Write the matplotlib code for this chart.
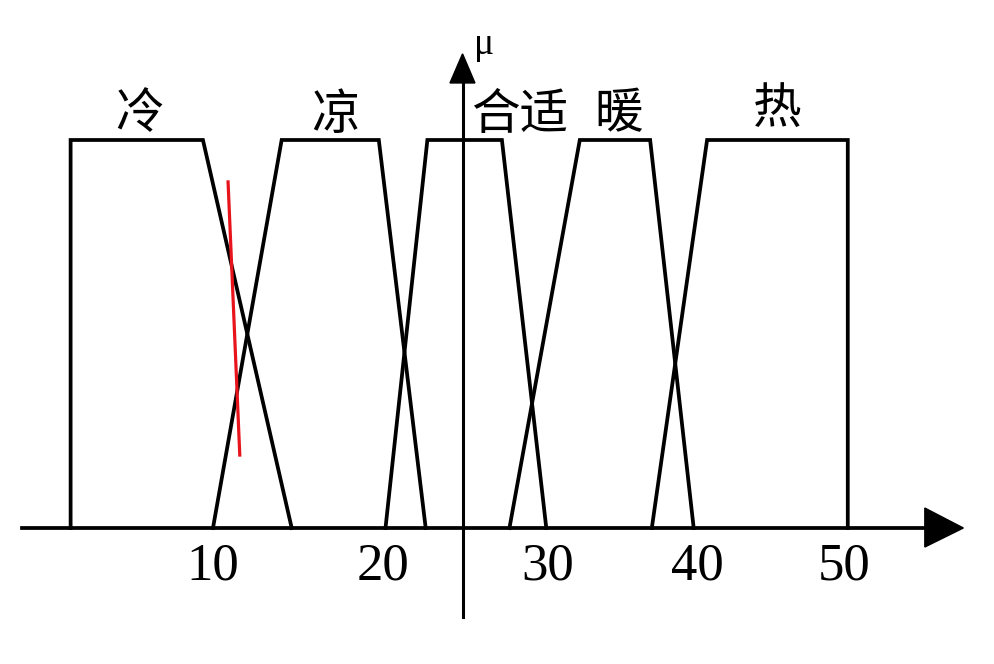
import matplotlib
matplotlib.use("Agg")
import matplotlib.pyplot as plt
from matplotlib.patches import Polygon

# membership function breakpoints (temperature units), mu values
names = ["冷", "凉", "合适", "暖", "热"]
mf_x = [
    [1.5, 1.5, 9.4, 14.7],
    [10.0, 14.1, 19.9, 22.7],
    [20.3, 22.8, 27.25, 29.9],
    [27.7, 31.9, 36.1, 38.7],
    [36.2, 39.5, 47.9, 47.9],
]
mf_y = [0, 1, 1, 0]
label_x = [5.6, 17.3, 28.3, 34.2, 43.7]
label_y = [1.065, 1.065, 1.065, 1.065, 1.08]

tick_labels = ["10", "20", "30", "40", "50"]
tick_pos = [10.0, 20.15, 30.0, 38.9, 47.7]

red_x = [10.9, 11.6]
red_y = [0.892, 0.188]

yaxis_x = 24.9

fig = plt.figure(figsize=(9.94, 6.64), dpi=100)
ax = fig.add_axes([0, 0, 1, 1])
ax.set_xlim(-2.716, 56.63)
ax.set_ylim(-0.3505, 1.3608)
ax.axis("off")

lw = 2.7
for xs in mf_x:
    ax.plot(xs, mf_y, color="black", lw=lw, solid_joinstyle="miter", zorder=3)

# x axis with arrow
ax.plot([-1.4, 52.6], [0, 0], color="black", lw=lw, zorder=3)
ax.add_patch(Polygon([[52.5, 0.0515], [52.5, -0.049], [54.8, 0]], closed=True,
                     color="black", zorder=4))
# y axis with arrow
ax.plot([yaxis_x, yaxis_x], [-0.229, 1.16], color="black", lw=2.2, zorder=3)
ax.add_patch(Polygon([[24.15, 1.147], [25.64, 1.147], [yaxis_x, 1.222]], closed=True,
                     color="black", zorder=4))
ax.text(26.2, 1.245, "μ", fontsize=27, family="Liberation Serif", ha="center", va="center")

# red line
ax.plot(red_x, red_y, color="#e8141c", lw=2.3, zorder=5)

for n, x, y in zip(names, label_x, label_y):
    ax.text(x, y, n, fontsize=35, family=["Noto Sans CJK SC", "DejaVu Sans"],
            ha="center", va="center")

for t, x in zip(tick_labels, tick_pos):
    ax.text(x, -0.10, t, fontsize=38, family="Liberation Serif", ha="center", va="center")

fig.savefig("out.png", dpi=100)
